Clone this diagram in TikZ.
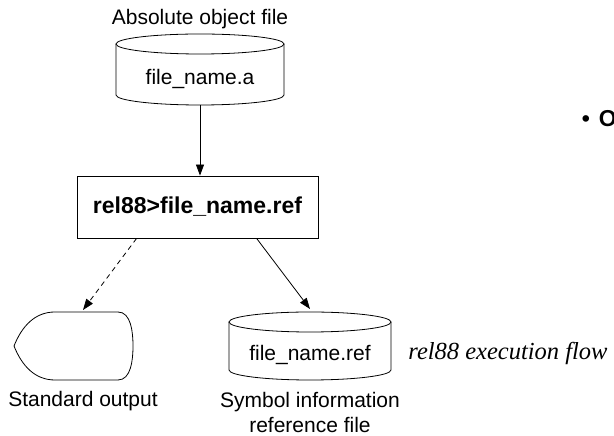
\documentclass[tikz,border=0pt]{standalone}
\usepackage{fontspec}
\setmainfont{Liberation Sans}
\newfontfamily\timesfont{Liberation Serif}
\usetikzlibrary{arrows.meta,calc}
\begin{document}
\begin{tikzpicture}[x=1pt,y=1pt,
  line width=0.8pt,
  lbl/.style={inner sep=0pt, font=\fontsize{21}{25}\selectfont, align=center},
  boxlbl/.style={draw, line width=0.8pt, minimum width=241pt, minimum height=62pt, inner sep=0pt, font=\bfseries\fontsize{23}{27}\selectfont},
  arr/.style={-{Triangle[length=11pt,width=8pt]}},
  dsh/.style={dash pattern=on 5pt off 4pt}
]
\useasboundingbox (0,0) rectangle (614,436);
\clip (0,0) rectangle (614,436);

% top cylinder
\draw (200,392) ellipse [x radius=84, y radius=10];
\draw (116,392) -- (116,341) arc[start angle=180, end angle=360, x radius=84, y radius=10] -- (284,392);
\node[lbl, anchor=base] (abs) at (200,411) {Absolute object file};
\node[lbl, anchor=base] (fa) at (200,351) {file\_name.a};
\coordinate (cyl1) at (200,331);

% command box
\node[boxlbl] (cmd) at (197.5,229) {rel88>file\_name.ref};

% standard output display shape
\node[minimum width=119pt, minimum height=68pt, inner sep=0pt] (so) at (73.5,90) {};
\draw (14,90) .. controls (22,110) and (35,124) .. (55,124) -- (118,124)
      .. controls (131,124) and (133,104) .. (133,90)
      .. controls (133,76) and (131,56) .. (118,56) -- (55,56)
      .. controls (35,56) and (22,70) .. (14,90) -- cycle;
\node[lbl, anchor=base] (solbl) at (83,29) {Standard output};

% bottom cylinder
\draw (310,114) ellipse [x radius=81, y radius=10];
\draw (229,114) -- (229,66) arc[start angle=180, end angle=360, x radius=81, y radius=10] -- (391,114);
\node[lbl, anchor=base] (fref) at (310,75) {file\_name.ref};
\node[lbl, anchor=base] (sym) at (310,28) {Symbol information};
\node[lbl, anchor=base] (sym2) at (310,3.5) {reference file};

% caption and clipped bullet
\node[anchor=base west, inner sep=0pt, font=\timesfont\itshape\fontsize{24.5}{28}\selectfont] (cap) at (408,76) {rel88 execution flow};
\node[anchor=base west, inner sep=0pt, font=\bfseries\fontsize{23}{27}\selectfont] (bul) at (581.5,309) {•\hspace{9pt}O};

% connectors
\coordinate (d1) at ($(cmd.south west)+(60,0)$);
\coordinate (s1) at ($(cmd.south west)+(180,0)$);
\coordinate (soin) at (83,126);
\coordinate (refin) at (310,127);
\draw[arr] (cyl1) -- (cmd.north -| cyl1);
\draw[arr,dsh] (d1) -- (soin);
\draw[arr] (s1) -- (refin);
\end{tikzpicture}
\end{document}
